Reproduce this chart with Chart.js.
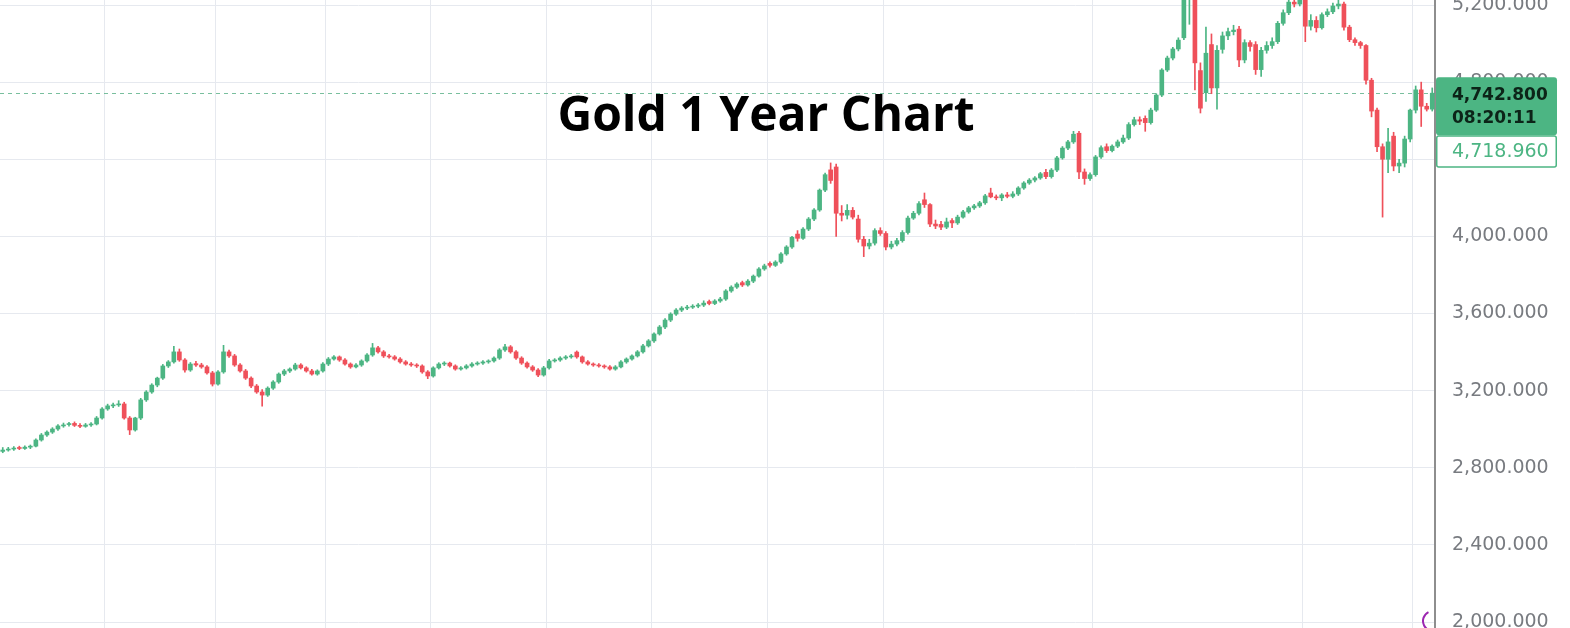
<!DOCTYPE html>
<html>
<head>
<meta charset="utf-8">
<title>Gold 1 Year Chart</title>
<script src="https://cdn.jsdelivr.net/npm/chart.js@4"></script>
<style>
  html, body { margin: 0; padding: 0; background: #fff; }
  #wrap { position: relative; width: 1570px; height: 628px; }
</style>
</head>
<body>
<div id="wrap"><canvas id="gold-chart"></canvas></div>
<script>
// daily candles (one row = 10 sessions)
const opens = [
  2885, 2892, 2897, 2905, 2900, 2907, 2912, 2944, 2970, 2985,
  3001, 3017, 3024, 3030, 3020, 3015, 3022, 3027, 3058, 3105,
  3121, 3126, 3131, 3058, 2996, 3058, 3152, 3193, 3229, 3265,
  3328, 3349, 3401, 3359, 3307, 3340, 3333, 3323, 3292, 3234,
  3297, 3401, 3380, 3333, 3302, 3265, 3224, 3193, 3177, 3213,
  3245, 3286, 3302, 3312, 3333, 3318, 3302, 3286, 3302, 3338,
  3364, 3375, 3359, 3338, 3323, 3333, 3354, 3385, 3422, 3401,
  3380, 3375, 3364, 3349, 3338, 3333, 3328, 3297, 3276, 3318,
  3338, 3343, 3328, 3312, 3318, 3328, 3338, 3343, 3349, 3354,
  3369, 3411, 3427, 3401, 3369, 3343, 3323, 3307, 3281, 3318,
  3354, 3359, 3369, 3375, 3400, 3375, 3349, 3338, 3333, 3328,
  3323, 3312, 3323, 3349, 3364, 3380, 3401, 3432, 3458, 3494,
  3530, 3566, 3597, 3618, 3628, 3633, 3638, 3644, 3662, 3652,
  3665, 3675, 3717, 3737, 3760, 3748, 3768, 3794, 3831, 3860,
  3850, 3867, 3909, 3945, 4012, 3990, 4038, 4090, 4137, 4240,
  4345, 4360, 4120, 4110, 4135, 4090, 3985, 3950, 3965, 4030,
  4015, 3945, 3960, 3978, 4020, 4095, 4120, 4190, 4165, 4064,
  4062, 4048, 4082, 4070, 4100, 4127, 4148, 4158, 4174, 4225,
  4205, 4200, 4215, 4208, 4220, 4251, 4277, 4292, 4303, 4332,
  4310, 4344, 4407, 4458, 4490, 4535, 4334, 4300, 4320, 4412,
  4465, 4445, 4468, 4490, 4510, 4580, 4605, 4612, 4590, 4655,
  4733, 4863, 4925, 4972, 5030, 5290, 5420, 4860, 4745, 4995,
  4770, 4970, 5040, 5062, 5075, 4915, 5005, 4995, 4865, 4965,
  4990, 5010, 5105, 5160, 5215, 5205, 5260, 5090, 5120, 5082,
  5150, 5165, 5195, 5205, 5085, 5020, 5005, 4990, 4810, 4655,
  4465, 4400, 4520, 4365, 4380, 4505, 4655, 4760, 4675, 4660
];
const highs = [
  2905, 2906, 2910, 2912, 2914, 2918, 2950, 2978, 2992, 3008,
  3024, 3032, 3036, 3038, 3029, 3030, 3034, 3066, 3112, 3130,
  3136, 3148, 3140, 3066, 3062, 3160, 3200, 3236, 3270, 3336,
  3356, 3430, 3416, 3366, 3346, 3352, 3342, 3330, 3300, 3304,
  3435, 3410, 3388, 3340, 3310, 3272, 3232, 3205, 3220, 3252,
  3292, 3310, 3318, 3342, 3340, 3324, 3310, 3308, 3345, 3372,
  3382, 3380, 3366, 3344, 3340, 3360, 3392, 3445, 3430, 3408,
  3388, 3382, 3372, 3356, 3346, 3340, 3334, 3304, 3324, 3345,
  3350, 3348, 3334, 3325, 3335, 3345, 3350, 3356, 3360, 3376,
  3418, 3440, 3434, 3408, 3376, 3350, 3330, 3314, 3326, 3362,
  3366, 3376, 3382, 3388, 3406, 3380, 3356, 3344, 3340, 3334,
  3330, 3330, 3356, 3370, 3386, 3408, 3440, 3465, 3500, 3538,
  3574, 3604, 3626, 3636, 3642, 3646, 3652, 3666, 3670, 3672,
  3684, 3724, 3744, 3760, 3768, 3776, 3800, 3838, 3856, 3868,
  3874, 3916, 3952, 4000, 4030, 4046, 4098, 4144, 4246, 4328,
  4381, 4375, 4160, 4165, 4150, 4110, 4000, 3985, 4040, 4045,
  4025, 3975, 3990, 4030, 4105, 4130, 4180, 4225, 4170, 4085,
  4078, 4095, 4092, 4110, 4135, 4156, 4166, 4182, 4218, 4250,
  4215, 4222, 4228, 4232, 4258, 4284, 4300, 4310, 4332, 4348,
  4352, 4415, 4466, 4498, 4545, 4545, 4350, 4330, 4420, 4470,
  4480, 4475, 4500, 4525, 4590, 4618, 4620, 4625, 4665, 4740,
  4870, 4935, 4980, 5030, 5300, 5450, 5595, 4900, 5085, 5050,
  4990, 5060, 5080, 5095, 5090, 5020, 5015, 5010, 4980, 5010,
  5030, 5115, 5175, 5230, 5250, 5290, 5275, 5150, 5140, 5160,
  5180, 5210, 5230, 5215, 5095, 5030, 5012, 4995, 4820, 4665,
  4480, 4560, 4540, 4400, 4520, 4660, 4780, 4800, 4690, 4770
];
const lows = [
  2878, 2886, 2890, 2894, 2895, 2899, 2908, 2938, 2962, 2978,
  2994, 3010, 3016, 3014, 3008, 3010, 3015, 3022, 3052, 3098,
  3112, 3118, 3052, 2972, 2990, 3050, 3144, 3186, 3220, 3258,
  3320, 3342, 3352, 3296, 3300, 3326, 3316, 3286, 3224, 3228,
  3290, 3372, 3326, 3296, 3258, 3216, 3186, 3120, 3170, 3206,
  3238, 3278, 3294, 3306, 3312, 3296, 3280, 3280, 3296, 3330,
  3358, 3352, 3332, 3316, 3318, 3326, 3348, 3378, 3394, 3372,
  3368, 3358, 3342, 3332, 3326, 3320, 3290, 3262, 3270, 3312,
  3330, 3322, 3306, 3306, 3312, 3322, 3332, 3336, 3342, 3348,
  3362, 3404, 3394, 3362, 3336, 3316, 3300, 3272, 3275, 3312,
  3348, 3352, 3362, 3368, 3368, 3342, 3332, 3326, 3322, 3316,
  3306, 3306, 3318, 3342, 3358, 3374, 3395, 3426, 3450, 3488,
  3522, 3558, 3590, 3610, 3620, 3626, 3630, 3636, 3645, 3646,
  3658, 3668, 3710, 3730, 3740, 3742, 3760, 3788, 3824, 3840,
  3844, 3860, 3902, 3938, 3975, 3984, 4030, 4082, 4130, 4232,
  4275, 4000, 4080, 4090, 4090, 3970, 3895, 3935, 3955, 4005,
  3930, 3935, 3950, 3970, 4012, 4088, 4112, 4150, 4050, 4040,
  4035, 4040, 4045, 4062, 4094, 4120, 4140, 4150, 4166, 4200,
  4190, 4185, 4200, 4200, 4212, 4244, 4270, 4282, 4296, 4300,
  4302, 4336, 4400, 4450, 4482, 4300, 4270, 4290, 4312, 4405,
  4435, 4438, 4460, 4482, 4502, 4572, 4580, 4545, 4582, 4648,
  4725, 4855, 4915, 4962, 5020, 5100, 4760, 4640, 4700, 4740,
  4660, 4950, 5020, 5045, 4880, 4900, 4960, 4840, 4830, 4950,
  4975, 5000, 5095, 5150, 5190, 5195, 5010, 5070, 5060, 5075,
  5140, 5155, 5180, 5070, 5010, 4990, 4975, 4790, 4620, 4440,
  4100, 4330, 4340, 4330, 4360, 4490, 4640, 4570, 4650, 4650
];
const closes = [
  2892, 2897, 2902, 2900, 2907, 2912, 2944, 2970, 2985, 3001,
  3017, 3022, 3027, 3020, 3015, 3022, 3027, 3058, 3105, 3121,
  3126, 3131, 3058, 2996, 3058, 3152, 3193, 3229, 3265, 3328,
  3349, 3401, 3359, 3307, 3338, 3333, 3323, 3292, 3234, 3297,
  3401, 3380, 3333, 3302, 3265, 3224, 3193, 3177, 3213, 3245,
  3286, 3302, 3312, 3333, 3318, 3302, 3286, 3302, 3338, 3364,
  3375, 3359, 3338, 3323, 3333, 3354, 3385, 3422, 3401, 3380,
  3375, 3364, 3349, 3338, 3333, 3328, 3297, 3276, 3318, 3338,
  3343, 3328, 3312, 3318, 3328, 3338, 3343, 3349, 3354, 3369,
  3411, 3427, 3401, 3369, 3343, 3323, 3307, 3281, 3318, 3354,
  3359, 3369, 3375, 3380, 3375, 3349, 3338, 3333, 3328, 3323,
  3312, 3323, 3349, 3364, 3380, 3401, 3432, 3458, 3494, 3530,
  3566, 3597, 3618, 3628, 3633, 3638, 3644, 3654, 3652, 3665,
  3675, 3717, 3737, 3753, 3748, 3768, 3794, 3831, 3847, 3850,
  3867, 3909, 3945, 3995, 3990, 4038, 4090, 4137, 4240, 4320,
  4290, 4120, 4110, 4135, 4100, 3985, 3950, 3965, 4030, 4015,
  3945, 3960, 3978, 4020, 4095, 4120, 4170, 4165, 4064, 4054,
  4048, 4075, 4070, 4100, 4127, 4148, 4158, 4174, 4210, 4205,
  4200, 4215, 4208, 4220, 4251, 4277, 4292, 4303, 4325, 4310,
  4344, 4407, 4458, 4490, 4530, 4334, 4300, 4320, 4412, 4460,
  4445, 4468, 4490, 4510, 4580, 4605, 4598, 4590, 4655, 4733,
  4863, 4925, 4972, 5018, 5280, 5410, 4900, 4665, 4950, 4770,
  4965, 5040, 5062, 5070, 4915, 5005, 4985, 4865, 4965, 4990,
  5010, 5105, 5160, 5215, 5205, 5260, 5090, 5120, 5082, 5150,
  5165, 5195, 5205, 5085, 5020, 5005, 4990, 4810, 4650, 4465,
  4400, 4490, 4365, 4380, 4505, 4655, 4760, 4675, 4660, 4742.8
];

// month separators (index of the first session of each month)
const monthStarts = [19, 39, 59, 78, 99, 118, 139, 160, 198, 236, 256];

// price axis
const priceTicks = [2000, 2400, 2800, 3200, 3600, 4000, 4400, 4800, 5200];
const yMin = 1969;
const yMax = 5226;

const lastPrice = 4742.8;
const lastCountdown = '08:20:11';
const refPrice = 4718.96;

const UP = '#4cb583';
const DOWN = '#ef505a';
const GRID = '#e6e9ef';

const labels = closes.map((_, i) => String(i + 1));
const candleColors = closes.map((c, i) => (c >= opens[i] ? UP : DOWN));

function fmtPrice(v) {
  return v.toLocaleString('en-US', { minimumFractionDigits: 3, maximumFractionDigits: 3 });
}

// title, last price line and the price tags on the axis
const overlayPlugin = {
  id: 'overlay',
  beforeDatasetsDraw(chart) {
    const { ctx, chartArea, scales } = chart;
    const y = Math.round(scales.y.getPixelForValue(lastPrice)) + 0.5;
    ctx.save();
    ctx.strokeStyle = 'rgba(76, 170, 125, 0.75)';
    ctx.lineWidth = 1;
    ctx.setLineDash([4, 4]);
    ctx.beginPath();
    ctx.moveTo(chartArea.left, y);
    ctx.lineTo(chartArea.right, y);
    ctx.stroke();
    ctx.restore();
  },
  afterDraw(chart) {
    const { ctx, chartArea, scales } = chart;
    const y = scales.y.getPixelForValue(lastPrice);
    const boxL = chartArea.right + 1;
    const boxW = 121;

    ctx.save();
    // title
    ctx.fillStyle = '#000';
    ctx.font = 'bold 48px "Open Sans"';
    ctx.textAlign = 'center';
    ctx.textBaseline = 'alphabetic';
    ctx.fillText('Gold 1 Year Chart', 766, 131);

    // last price tag
    ctx.fillStyle = UP;
    ctx.beginPath();
    ctx.roundRect(boxL, y - 16, boxW, 58, 3);
    ctx.fill();
    ctx.fillStyle = '#0c2418';
    ctx.font = 'bold 17px "DejaVu Sans"';
    ctx.textAlign = 'left';
    ctx.textBaseline = 'middle';
    ctx.fillText(fmtPrice(lastPrice), 1452, y + 2);
    ctx.fillText(lastCountdown, 1452, y + 25);

    // reference price tag
    ctx.fillStyle = '#fff';
    ctx.strokeStyle = UP;
    ctx.lineWidth = 1.5;
    ctx.beginPath();
    ctx.roundRect(boxL + 0.75, y + 42.75, boxW - 1.5, 31, 2);
    ctx.fill();
    ctx.stroke();
    ctx.fillStyle = UP;
    ctx.font = '19px "DejaVu Sans"';
    ctx.fillText(fmtPrice(refPrice), 1452, y + 59);

    // little purple marker at the bottom of the price axis
    ctx.strokeStyle = '#9c27b0';
    ctx.lineWidth = 2;
    ctx.beginPath();
    ctx.arc(1433, 621, 10, Math.PI * 0.6, Math.PI * 1.35);
    ctx.stroke();
    ctx.restore();
  },
};

Chart.defaults.font.family = '"DejaVu Sans"';

new Chart(document.getElementById('gold-chart'), {
  type: 'bar',
  data: {
    labels: labels,
    datasets: [
      {
        label: 'Body',
        data: closes.map((c, i) => [opens[i], c]),
        backgroundColor: candleColors,
        borderWidth: 0,
        barThickness: 4,
        minBarLength: 1,
        grouped: false,
        order: 0,
      },
      {
        label: 'Wick',
        data: lows.map((l, i) => [l, highs[i]]),
        backgroundColor: candleColors,
        borderWidth: 0,
        barThickness: 1,
        grouped: false,
        order: 1,
      },
    ],
  },
  options: {
    responsive: true,
    maintainAspectRatio: false,
    animation: false,
    events: [],
    layout: { padding: 0 },
    plugins: {
      legend: { display: false },
      tooltip: { enabled: false },
    },
    scales: {
      x: {
        offset: true,
        ticks: { display: false, autoSkip: false },
        grid: {
          offset: true,
          drawTicks: false,
          color: ctx => (monthStarts.includes(ctx.index) ? GRID : 'rgba(0,0,0,0)'),
        },
        border: { display: false },
        afterFit(scale) {
          scale.height = 0;
        },
      },
      y: {
        position: 'right',
        min: yMin,
        max: yMax,
        afterBuildTicks(scale) {
          scale.ticks = priceTicks.map(v => ({ value: v }));
        },
        ticks: {
          padding: 17,
          color: '#787b80',
          font: { size: 19 },
          callback: v => fmtPrice(v),
        },
        grid: { color: GRID, drawTicks: false },
        border: { color: '#8e8e8e', width: 2 },
        afterFit(scale) {
          scale.width = 135;
          scale.paddingTop = 0;
          scale.paddingBottom = 0;
        },
      },
    },
  },
  plugins: [overlayPlugin],
});
</script>
</body>
</html>
